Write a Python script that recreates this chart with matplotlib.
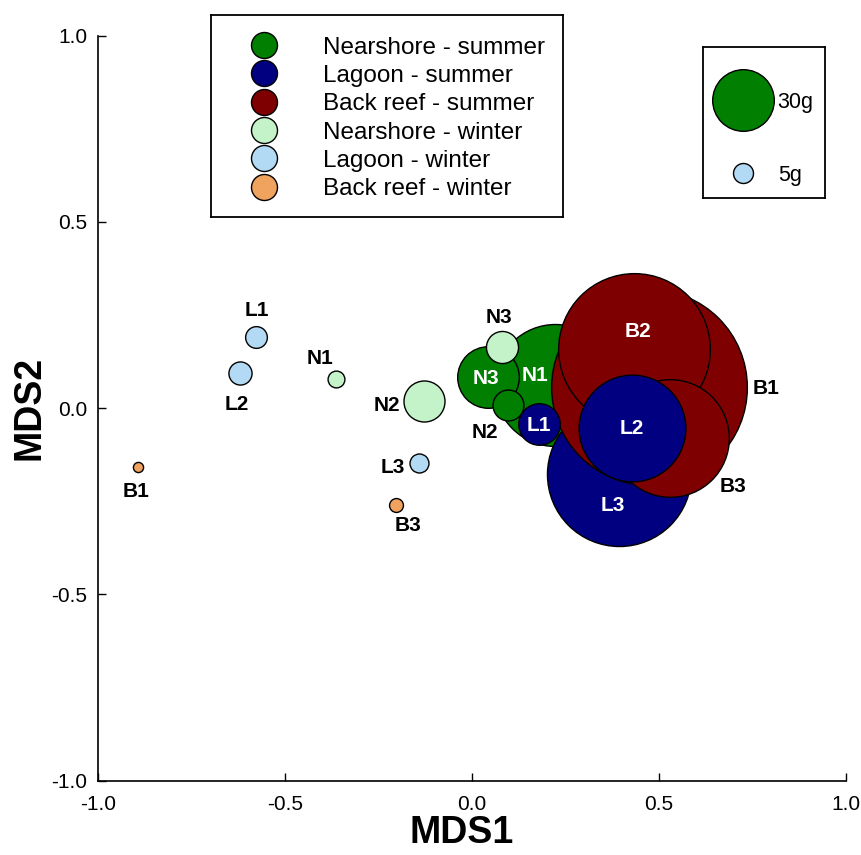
import matplotlib
matplotlib.use("Agg")
import matplotlib.pyplot as plt

plt.rcParams['font.family'] = ['Liberation Sans', 'DejaVu Sans']

# ---------------- data ----------------
sites = ["N1", "N2", "N3", "L1", "L2", "L3", "B1", "B2", "B3"]
summer_x = [0.222, 0.095, 0.042, 0.179, 0.428, 0.394, 0.473, 0.433, 0.529]
summer_y = [0.062, 0.009, 0.084, -0.042, -0.053, -0.176, 0.057, 0.159, -0.080]
summer_g = [89, 10, 30, 16, 72, 116, 189, 126, 84]

winter_sites = ["N1", "N2", "N3", "L1", "L2", "L3", "B1", "B3"]
winter_x = [-0.364, -0.128, 0.080, -0.579, -0.621, -0.141, -0.893, -0.205]
winter_y = [0.078, 0.020, 0.164, 0.191, 0.094, -0.148, -0.157, -0.260]
winter_g = [3.8, 15.7, 10.6, 5.7, 6.3, 4.6, 1.7, 2.8]

legend_labels = ["Nearshore - summer", "Lagoon - summer", "Back reef - summer",
                 "Nearshore - winter", "Lagoon - winter", "Back reef - winter"]
size_legend_g = [30, 5]
size_legend_labels = ["30g", "5g"]
ticks = [-1.0, -0.5, 0.0, 0.5, 1.0]

# ---------------- styles ----------------
colors = {
    ("N", "summer"): "#007f00", ("L", "summer"): "#000080", ("B", "summer"): "#7f0000",
    ("N", "winter"): "#c4f2c9", ("L", "winter"): "#b3daf5", ("B", "winter"): "#f0a25f",
}
legend_colors = [colors[("N", "summer")], colors[("L", "summer")], colors[("B", "summer")],
                 colors[("N", "winter")], colors[("L", "winter")], colors[("B", "winter")]]

DPI = 100


def size_pts2(g):
    d_px = 20.0 * (g / 5.0) ** 0.628
    return (d_px * 72.0 / DPI) ** 2


# label offsets (points) and colour
summer_lab = {"N1": ((-14.4, 8.6), "white"), "N2": ((-16.6, -18.4), "black"),
              "N3": ((-1.4, 0.2), "white"), "L1": ((0, 0), "white"),
              "L2": ((0, 1.4), "white"), "L3": ((-4.5, -21.3), "white"),
              "B1": ((84.2, 0), "black"), "B2": ((2.9, 13.7), "white"),
              "B3": ((45.4, -33.8), "black")}
winter_lab = {"N1": (-11.5, 16.1), "N2": (-26.9, -1.7), "N3": (-2.2, 22.7),
              "L1": (0.9, 20.9), "L2": (-2.2, -21.4), "L3": (-18.9, -1.2),
              "B1": (-1.7, -16.1), "B3": (8.9, -13.0)}

summer_order = ["N1", "N3", "N2", "L3", "B1", "B2", "B3", "L2", "L1"]

fig = plt.figure(figsize=(8.61, 8.55), dpi=DPI)
ax = fig.add_axes([0.1142, 0.0869, 0.8684, 0.8713])
ax.set_xlim(-1, 1)
ax.set_ylim(-1, 1)

z = 2
for s in summer_order:
    i = sites.index(s)
    ax.scatter([summer_x[i]], [summer_y[i]], s=size_pts2(summer_g[i]),
               color=colors[(s[0], "summer")], edgecolor="black", linewidth=1.0, zorder=z)
    z += 1
for i, s in enumerate(winter_sites):
    ax.scatter([winter_x[i]], [winter_y[i]], s=size_pts2(winter_g[i]),
               color=colors[(s[0], "winter")], edgecolor="black", linewidth=1.0, zorder=z)
    z += 1

for i, s in enumerate(sites):
    off, c = summer_lab[s]
    ax.annotate(s, (summer_x[i], summer_y[i]), xytext=off, textcoords="offset points",
                ha="center", va="center_baseline", fontsize=15, fontweight="bold",
                color=c, zorder=50)
for i, s in enumerate(winter_sites):
    ax.annotate(s, (winter_x[i], winter_y[i]), xytext=winter_lab[s], textcoords="offset points",
                ha="center", va="center_baseline", fontsize=15, fontweight="bold",
                color="black", zorder=50)

ax.set_xticks(ticks)
ax.set_yticks(ticks)
ax.set_xticklabels([f"{t:.1f}" for t in ticks])
ax.set_yticklabels([f"{t:.1f}" for t in ticks])
ax.tick_params(direction="in", length=5.5, width=1.0, labelsize=15)
ax.tick_params(axis="x", pad=10)
ax.tick_params(axis="y", pad=8)
for sp in ["top", "right"]:
    ax.spines[sp].set_visible(False)
for sp in ["left", "bottom"]:
    ax.spines[sp].set_linewidth(1.2)

ax.set_xlabel("MDS1", fontsize=27, fontweight="bold", va="center", ha="center")
ax.xaxis.set_label_coords(0.486, -0.0702)
ax.set_ylabel("MDS2", fontsize=27, fontweight="bold", va="center", ha="center",
              rotation_mode="default")
ax.yaxis.set_label_coords(-0.0917, 0.5)

# ---------------- category legend ----------------
lax = fig.add_axes([0.2451, 0.7465, 0.4088, 0.2359])
lax.set_xlim(0, 1)
lax.set_ylim(1, 0)
lax.set_xticks([])
lax.set_yticks([])
for sp in lax.spines.values():
    sp.set_linewidth(1.3)
for i, (lab, col) in enumerate(zip(legend_labels, legend_colors)):
    yy = 0.1487 + 0.1405 * i
    lax.scatter([0.1514], [yy], s=(26 * 0.72) ** 2, color=col, edgecolor="black",
                linewidth=1.0, clip_on=False)
    lax.text(0.319, yy, lab, ha="left", va="center_baseline", fontsize=17.5)

# ---------------- size legend ----------------
sax = fig.add_axes([0.8169, 0.7681, 0.1413, 0.1773])
sax.set_xlim(0, 1)
sax.set_ylim(1, 0)
sax.set_xticks([])
sax.set_yticks([])
for sp in sax.spines.values():
    sp.set_linewidth(1.3)
size_cols = [colors[("N", "summer")], colors[("L", "winter")]]
for g, lab, col, cx, cy in zip(size_legend_g, size_legend_labels, size_cols,
                               [0.322, 0.329], [0.355, 0.835]):
    sax.scatter([cx], [cy], s=size_pts2(g), color=col, edgecolor="black",
                linewidth=1.0, clip_on=False)
    sax.text(0.611, cy, lab, ha="left", va="center_baseline", fontsize=15.5)

fig.savefig("out.png", dpi=DPI)
